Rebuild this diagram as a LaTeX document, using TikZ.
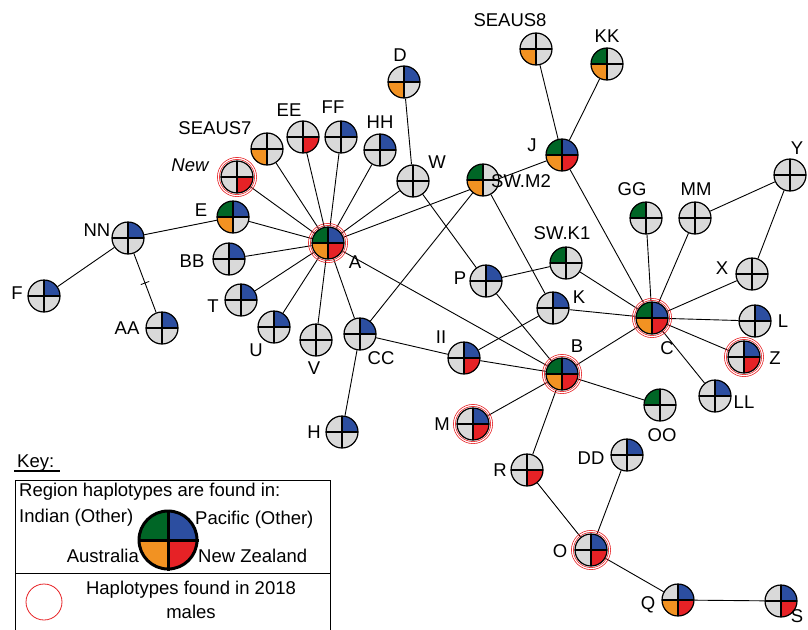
\documentclass[tikz,border=0pt]{standalone}
\usepackage{fontspec}
\setmainfont{Liberation Sans}
\usepackage{tikz}
\usetikzlibrary{backgrounds}
\usepackage{xcolor}
\definecolor{indgreen}{RGB}{0,102,38}
\definecolor{pacblue}{RGB}{44,78,160}
\definecolor{ausorange}{RGB}{242,146,34}
\definecolor{nzred}{RGB}{230,34,38}
\definecolor{hapgray}{RGB}{217,217,217}

\begin{document}
\begin{tikzpicture}[x=1pt, y=-1pt,
  font=\fontsize{18.5}{24}\selectfont,
  hap/.style={circle, draw, line width=1.2pt, minimum size=32pt, inner sep=0pt, fill=hapgray},
  q/.style n args={4}{path picture={
    \fill[#1] (path picture bounding box.center) rectangle (path picture bounding box.north west);
    \fill[#2] (path picture bounding box.center) rectangle (path picture bounding box.north east);
    \fill[#3] (path picture bounding box.center) rectangle (path picture bounding box.south west);
    \fill[#4] (path picture bounding box.center) rectangle (path picture bounding box.south east);
    \draw[line width=1.2pt] (path picture bounding box.north) -- (path picture bounding box.south)
      (path picture bounding box.west) -- (path picture bounding box.east);}},
  edge/.style={line width=0.9pt},
  ring/.style={draw=nzred, line width=0.6pt},
  lab/.style={inner sep=0pt}
]
  \useasboundingbox (0,0) rectangle (808,629);

  % haplotypes
  \node[hap, q={indgreen}{pacblue}{ausorange}{nzred}] (A) at (328,243) {};
  \node[hap, q={indgreen}{pacblue}{ausorange}{nzred}] (B) at (562,374) {};
  \node[hap, q={indgreen}{pacblue}{ausorange}{nzred}] (C) at (652,318) {};
  \node[hap, q={indgreen}{pacblue}{ausorange}{nzred}] (J) at (562,155) {};
  \node[hap, q={hapgray}{pacblue}{ausorange}{hapgray}] (D) at (404,82) {};
  \node[hap, q={indgreen}{pacblue}{ausorange}{hapgray}] (E) at (233,217) {};
  \node[hap, q={hapgray}{pacblue}{hapgray}{hapgray}] (F) at (44,296) {};
  \node[hap, q={hapgray}{pacblue}{hapgray}{hapgray}] (H) at (342,432) {};
  \node[hap, q={hapgray}{pacblue}{hapgray}{hapgray}] (K) at (553,308) {};
  \node[hap, q={hapgray}{pacblue}{hapgray}{hapgray}] (L) at (755,321) {};
  \node[hap, q={hapgray}{pacblue}{hapgray}{nzred}] (M) at (473,424) {};
  \node[hap, q={hapgray}{pacblue}{hapgray}{nzred}] (O) at (591,550) {};
  \node[hap, q={hapgray}{pacblue}{hapgray}{hapgray}] (P) at (486,281) {};
  \node[hap, q={hapgray}{pacblue}{ausorange}{nzred}] (Q) at (678,600) {};
  \node[hap, q={hapgray}{hapgray}{hapgray}{nzred}] (R) at (527,470) {};
  \node[hap, q={hapgray}{pacblue}{hapgray}{nzred}] (S) at (781,601) {};
  \node[hap, q={hapgray}{pacblue}{hapgray}{hapgray}] (T) at (241,300) {};
  \node[hap, q={hapgray}{pacblue}{hapgray}{hapgray}] (U) at (274,327) {};
  \node[hap, q={hapgray}{hapgray}{hapgray}{hapgray}] (V) at (316,340) {};
  \node[hap, q={hapgray}{hapgray}{hapgray}{hapgray}] (W) at (413,181) {};
  \node[hap, q={hapgray}{hapgray}{hapgray}{hapgray}] (X) at (752,274) {};
  \node[hap, q={hapgray}{hapgray}{hapgray}{hapgray}] (Y) at (790,175) {};
  \node[hap, q={hapgray}{pacblue}{hapgray}{nzred}] (Z) at (744,357) {};
  \node[hap, q={hapgray}{pacblue}{hapgray}{hapgray}] (AA) at (162,328) {};
  \node[hap, q={hapgray}{pacblue}{hapgray}{hapgray}] (BB) at (229,259) {};
  \node[hap, q={hapgray}{pacblue}{hapgray}{hapgray}] (CC) at (360,334) {};
  \node[hap, q={hapgray}{pacblue}{hapgray}{hapgray}] (DD) at (627,455) {};
  \node[hap, q={hapgray}{hapgray}{hapgray}{nzred}] (EE) at (303,137) {};
  \node[hap, q={hapgray}{pacblue}{hapgray}{hapgray}] (FF) at (341,137) {};
  \node[hap, q={indgreen}{hapgray}{hapgray}{hapgray}] (GG) at (646,218) {};
  \node[hap, q={hapgray}{pacblue}{hapgray}{hapgray}] (HH) at (380,150) {};
  \node[hap, q={hapgray}{pacblue}{hapgray}{nzred}] (II) at (464,358) {};
  \node[hap, q={indgreen}{hapgray}{ausorange}{hapgray}] (KK) at (607,64) {};
  \node[hap, q={hapgray}{pacblue}{hapgray}{hapgray}] (LL) at (715,396) {};
  \node[hap, q={hapgray}{hapgray}{hapgray}{hapgray}] (MM) at (695,218) {};
  \node[hap, q={hapgray}{pacblue}{hapgray}{hapgray}] (NN) at (128,238) {};
  \node[hap, q={indgreen}{hapgray}{hapgray}{hapgray}] (OO) at (660,405) {};
  \node[hap, q={hapgray}{hapgray}{ausorange}{hapgray}] (SEAUS7) at (267,149) {};
  \node[hap, q={hapgray}{hapgray}{ausorange}{hapgray}] (SEAUS8) at (536,49) {};
  \node[hap, q={indgreen}{hapgray}{ausorange}{hapgray}] (SWM2) at (483,180) {};
  \node[hap, q={indgreen}{hapgray}{hapgray}{hapgray}] (SWK1) at (566,263) {};
  \node[hap, q={hapgray}{hapgray}{hapgray}{nzred}] (New) at (237,177) {};

  % found in 2018 males
  \foreach \n in {A,B,C,M,O,Z,New} {
    \draw[ring] (\n.center) circle (17.6pt);
    \draw[ring] (\n.center) circle (19.6pt);
  }

  % labels
  \node[lab] (tA) at (355,262) {A};
  \node[lab] (tB) at (577,346) {B};
  \node[lab] (tC) at (667,348) {C};
  \node[lab] (tD) at (400,55) {D};
  \node[lab] (tE) at (201,210) {E};
  \node[lab] (tF) at (17,293) {F};
  \node[lab] (tH) at (314,432) {H};
  \node[lab] (tJ) at (532,145) {J};
  \node[lab] (tK) at (579,297) {K};
  \node[lab] (tL) at (783,321) {L};
  \node[lab] (tM) at (442,424) {M};
  \node[lab] (tO) at (560,551) {O};
  \node[lab] (tP) at (460,278) {P};
  \node[lab] (tQ) at (648,605) {Q};
  \node[lab] (tR) at (500,470) {R};
  \node[lab] (tS) at (797,616) {S};
  \node[lab] (tT) at (213,306) {T};
  \node[lab] (tU) at (256,350) {U};
  \node[lab] (tV) at (314,368) {V};
  \node[lab] (tW) at (437,162) {W};
  \node[lab] (tX) at (722,268) {X};
  \node[lab] (tY) at (797,148) {Y};
  \node[lab] (tZ) at (775,358) {Z};
  \node[lab] (tAA) at (127,328) {AA};
  \node[lab] (tBB) at (192,261) {BB};
  \node[lab] (tCC) at (381,358) {CC};
  \node[lab] (tDD) at (591,458) {DD};
  \node[lab] (tEE) at (289,110) {EE};
  \node[lab] (tFF) at (333,107) {FF};
  \node[lab] (tGG) at (632,189) {GG};
  \node[lab] (tHH) at (380,122) {HH};
  \node[lab] (tII) at (441,337) {II};
  \node[lab] (tKK) at (607,36) {KK};
  \node[lab] (tLL) at (744,402) {LL};
  \node[lab] (tMM) at (696,189) {MM};
  \node[lab] (tNN) at (97,230) {NN};
  \node[lab] (tOO) at (662,435) {OO};
  \node[lab] (tSEAUS7) at (215,128) {SEAUS7};
  \node[lab] (tSEAUS8) at (510,20) {SEAUS8};
  \node[lab] (tSWM2) at (521,181) {SW.M2};
  \node[lab] (tSWK1) at (562,233) {SW.K1};
  \node[lab] (tNew) at (190,165) {\itshape New};

  % connections
  \begin{scope}[on background layer]
    \draw[edge] (A) -- (New);
    \draw[edge] (A) -- (SEAUS7);
    \draw[edge] (A) -- (EE);
    \draw[edge] (A) -- (FF);
    \draw[edge] (A) -- (HH);
    \draw[edge] (A) -- (W);
    \draw[edge] (A) -- (J);
    \draw[edge] (A) -- (E);
    \draw[edge] (A) -- (BB);
    \draw[edge] (A) -- (T);
    \draw[edge] (A) -- (U);
    \draw[edge] (A) -- (V);
    \draw[edge] (A) -- (CC);
    \draw[edge] (A) -- (B);
    \draw[edge] (NN) -- (E);
    \draw[edge] (NN) -- (F);
    \draw[edge] (NN) -- node[pos=0.5, sloped, draw, inner sep=0pt, minimum width=0pt, minimum height=9pt, line width=0.8pt] (tick) {} (AA);
    \draw[edge] (D) -- (W);
    \draw[edge] (W) -- (P);
    \draw[edge] (J) -- (SEAUS8);
    \draw[edge] (J) -- (KK);
    \draw[edge] (J) -- (C);
    \draw[edge] (SWM2) -- (CC);
    \draw[edge] (SWM2) -- (K);
    \draw[edge] (CC) -- (H);
    \draw[edge] (CC) -- (II);
    \draw[edge] (II) -- (K);
    \draw[edge] (II) -- (B);
    \draw[edge] (P) -- (SWK1);
    \draw[edge] (P) -- (B);
    \draw[edge] (SWK1) -- (C);
    \draw[edge] (K) -- (C);
    \draw[edge] (C) -- (GG);
    \draw[edge] (C) -- (MM);
    \draw[edge] (C) -- (X);
    \draw[edge] (C) -- (L);
    \draw[edge] (C) -- (Z);
    \draw[edge] (C) -- (LL);
    \draw[edge] (C) -- (B);
    \draw[edge] (Y) -- (MM);
    \draw[edge] (Y) -- (X);
    \draw[edge] (B) -- (M);
    \draw[edge] (B) -- (R);
    \draw[edge] (B) -- (OO);
    \draw[edge] (DD) -- (O);
    \draw[edge] (R) -- (O);
    \draw[edge] (O) -- (Q);
    \draw[edge] (Q) -- (S);
  \end{scope}

  % key
  \node[lab, anchor=base west] (keyt) at (17,467) {Key:};
  \draw[line width=2pt] (14,471) -- (60,471);
  \draw[line width=1pt] (15,480) rectangle (330,660);
  \draw[line width=1pt] (15,573) -- (330,573);
  \node[lab, anchor=west] (regt) at (19,492) {Region haplotypes are found in:};
  \node[lab, anchor=west] (indt) at (19,518) {Indian (Other)};
  \node[lab, anchor=west] (pact) at (195,520) {Pacific (Other)};
  \node[lab, anchor=east] (aust) at (139,556) {Australia};
  \node[lab, anchor=west] (nzt) at (198,556) {New Zealand};
  \node[hap, q={indgreen}{pacblue}{ausorange}{nzred}, minimum size=58pt, line width=3pt] (keyhap) at (168,540) {};
  \draw[line width=3pt] (keyhap.north) -- (keyhap.south) (keyhap.west) -- (keyhap.east);
  \node[circle, draw=nzred, line width=0.8pt, minimum size=36pt, inner sep=0pt] (keyring) at (44,602) {};
  \node[lab, align=center] (malet) at (191,600) {Haplotypes found in 2018\\males};
\end{tikzpicture}
\end{document}
